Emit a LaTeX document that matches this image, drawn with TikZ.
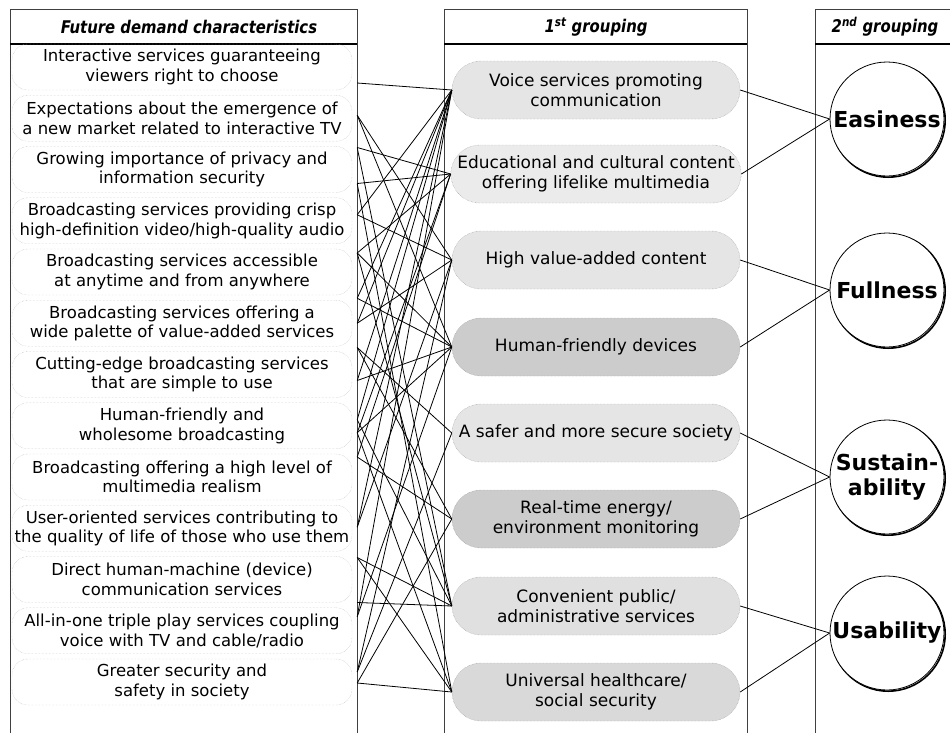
\documentclass[tikz,border=0pt]{standalone}
\usepackage{fontspec}
\setmainfont{DejaVu Sans}
\newfontfamily\hdrfont{DejaVu Sans}[FakeStretch=0.85]
\usetikzlibrary{shapes.misc}
\tikzset{
  colline/.style={draw=black!75, line width=0.7pt},
  hdrtext/.style={font=\hdrfont\bfseries\itshape\fontsize{17.5}{19}\selectfont},
  demand/.style={draw=black!30, densely dotted, rounded corners=16pt, minimum width=340pt, minimum height=46pt, align=center, font=\fontsize{16.5}{19.5}\selectfont, inner sep=0pt},
  group/.style={rounded rectangle, draw=black!45, densely dotted, minimum width=288pt, minimum height=58pt, align=center, font=\fontsize{17}{20}\selectfont, inner sep=0pt},
  goal/.style={circle, draw=black, line width=0.8pt, fill=white, minimum size=114pt, inner sep=0pt, align=center, font=\bfseries\fontsize{22}{25}\selectfont,
    preaction={draw=black, line width=1.6pt, transform canvas={xshift=1.2pt,yshift=-1.2pt}}},
  link/.style={draw=black, line width=0.8pt},
}
\newcommand\lk[3]{\draw[link] ([xshift=5pt,yshift=#2pt]L#1.east) -- (M#3.west);}
\begin{document}
\begin{tikzpicture}[x=1pt,y=-1pt]
\useasboundingbox (0,0) rectangle (950,732);
\begin{scope}
\clip (0,0) rectangle (950,732);
% column frames
\draw[colline] (10,9) rectangle (357,44);
\draw[colline] (10,44) rectangle (357,745);
\draw[colline] (444,9) rectangle (747,44);
\draw[colline] (444,44) rectangle (747,745);
\draw[colline] (815,9) rectangle (965,44);
\draw[colline] (815,44) rectangle (965,745);
\draw[line width=1.5pt] (10,44) -- (357,44) (444,44) -- (747,44) (815,44) -- (965,44);
\end{scope}
% headers
\node[hdrtext] (H1) at (189,27) {Future demand characteristics};
\node[hdrtext] (H2) at (596,27) {1\textsuperscript{st} grouping};
\node[hdrtext] (H3) at (885,27) {2\textsuperscript{nd} grouping};
% demand items
\node[demand] (L1) at (182,67) {Interactive services guaranteeing\\viewers right to choose};
\node[demand] (L2) at (182,118.25) {Expectations about the emergence of\\a new market related to interactive TV};
\node[demand] (L3) at (182,169.5) {Growing importance of privacy and\\information security};
\node[demand] (L4) at (182,220.75) {Broadcasting services providing crisp\\high-definition video/high-quality audio};
\node[demand] (L5) at (182,272) {Broadcasting services accessible\\at anytime and from anywhere};
\node[demand] (L6) at (182,323.25) {Broadcasting services offering a\\wide palette of value-added services};
\node[demand] (L7) at (182,374.5) {Cutting-edge broadcasting services\\that are simple to use};
\node[demand] (L8) at (182,425.75) {Human-friendly and\\wholesome broadcasting};
\node[demand] (L9) at (182,477) {Broadcasting offering a high level of\\multimedia realism};
\node[demand] (L10) at (182,528.25) {User-oriented services contributing to\\the quality of life of those who use them};
\node[demand] (L11) at (182,579.5) {Direct human-machine (device)\\communication services};
\node[demand] (L12) at (182,630.75) {All-in-one triple play services coupling\\voice with TV and cable/radio};
\node[demand] (L13) at (182,682) {Greater security and\\safety in society};
% first grouping
\node[group, fill=black!10] (M1) at (596,90) {Voice services promoting\\communication};
\node[group, fill=black!8]  (M2) at (596,174) {Educational and cultural content\\offering lifelike multimedia};
\node[group, fill=black!10] (M3) at (596,260) {High value-added content};
\node[group, fill=black!20] (M4) at (596,347) {Human-friendly devices};
\node[group, fill=black!10] (M5) at (596,433) {A safer and more secure society};
\node[group, fill=black!20] (M6) at (596,519) {Real-time energy/\\environment monitoring};
\node[group, fill=black!12] (M7) at (596,606) {Convenient public/\\administrative services};
\node[group, fill=black!15] (M8) at (596,692) {Universal healthcare/\\social security};
% second grouping
\node[goal] (G1) at (887,119) {Easiness};
\node[goal] (G2) at (887,290) {Fullness};
\node[goal] (G3) at (887,477) {Sustain-\\ability};
\node[goal] (G4) at (887,633) {Usability};
% links first -> second grouping
\draw[link] (M1.east) -- (G1.west);
\draw[link] (M2.east) -- (G1.west);
\draw[link] (M3.east) -- (G2.west);
\draw[link] (M4.east) -- (G2.west);
\draw[link] (M5.east) -- (G3.west);
\draw[link] (M6.east) -- (G3.west);
\draw[link] (M7.east) -- (G4.west);
\draw[link] (M8.east) -- (G4.west);
% links demand -> first grouping
\lk{1}{-16}{1}
\lk{2}{3}{3} \lk{2}{3}{4}
\lk{3}{22}{2} \lk{3}{22}{7}
\lk{3}{-14}{2} \lk{3}{-14}{8}
\lk{4}{6}{1} \lk{4}{6}{3}
\lk{5}{19}{2} \lk{5}{19}{4} \lk{5}{19}{7}
\lk{6}{25}{1} \lk{6}{25}{4}
\lk{6}{0}{1} \lk{6}{0}{3}
\lk{7}{27}{6} \lk{7}{27}{5}
\lk{7}{-6}{4} \lk{7}{-6}{1}
\lk{8}{6}{1} \lk{8}{6}{7}
\lk{8}{-7}{2} \lk{8}{-7}{4} \lk{8}{-7}{8}
\lk{9}{20}{2} \lk{9}{20}{6}
\lk{10}{1}{1} \lk{10}{1}{3}
\lk{11}{22}{7} \lk{11}{22}{8}
\lk{11}{-23}{7}
\lk{12}{14}{1} \lk{12}{14}{4}
\lk{13}{10}{5} \lk{13}{10}{3}
\lk{13}{-1}{6} \lk{13}{-1}{8}
\end{tikzpicture}
\end{document}
